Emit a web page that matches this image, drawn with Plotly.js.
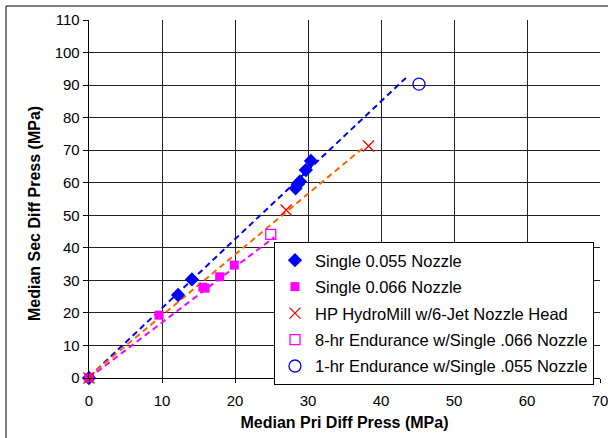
<!DOCTYPE html>
<html><head><meta charset="utf-8">
<script src="https://cdn.plot.ly/plotly-3.0.1.min.js"></script>
<style>html,body{margin:0;padding:0;background:#fff;}#chart{width:608px;height:438px;}</style>
</head><body><div id="chart"></div>
<script>
// Data
const s055_x = [0, 12.2, 14.1, 28.3, 28.6, 28.9, 29.7, 30.4];
const s055_y = [0, 25.5, 30.3, 58.3, 59.5, 60.4, 63.9, 66.7];
const s066_x = [0, 9.6, 15.6, 15.9, 17.9, 19.9];
const s066_y = [0, 19.3, 27.9, 27.6, 31.1, 34.7];
const hp_x = [0, 27.0, 38.3];
const hp_y = [0, 51.6, 71.3];
const end8_x = [24.9];
const end8_y = [44.1];
const end1_x = [45.2];
const end1_y = [90.3];
// Trendline endpoints
const trendBlue_x = [0, 43.4];
const trendBlue_y = [0.3, 92.2];
const trendOrange_x = [0, 37.7];
const trendOrange_y = [0.5, 71.0];
const trendMagenta_x = [0, 25.4];
const trendMagenta_y = [0, 43.3];
const names = ["Single 0.055 Nozzle", "Single 0.066 Nozzle", "HP HydroMill w/6-Jet Nozzle Head",
  "8-hr Endurance w/Single .066 Nozzle", "1-hr Endurance w/Single .055 Nozzle"];
const xTitle = "Median Pri Diff Press (MPa)";
const yTitle = "Median Sec Diff Press (MPa)";

const traces = [
  {x: trendBlue_x, y: trendBlue_y, mode: 'lines', line: {color: '#0000FF', dash: '6px,4px', width: 2}, showlegend: false, hoverinfo: 'skip'},
  {x: trendOrange_x, y: trendOrange_y, mode: 'lines', line: {color: '#FF6600', dash: '6px,4px', width: 2}, showlegend: false, hoverinfo: 'skip'},
  {x: trendMagenta_x, y: trendMagenta_y, mode: 'lines', line: {color: '#FF00FF', dash: '6px,4px', width: 2}, showlegend: false, hoverinfo: 'skip'},
  {x: s055_x, y: s055_y, name: names[0], legendgroup: 'a', mode: 'markers', marker: {symbol: 'diamond', size: 11, color: '#0000FF'}},
  {x: s066_x, y: s066_y, name: names[1], legendgroup: 'b', mode: 'markers', marker: {symbol: 'square', size: 9, color: '#FF00FF'}},
  {x: hp_x, y: hp_y, name: names[2], legendgroup: 'c', mode: 'markers', marker: {symbol: 'x-thin', size: 11, color: '#FF0000', line: {color: '#FF0000', width: 1.3}}},
  {x: end8_x, y: end8_y, name: names[3], legendgroup: 'd', mode: 'markers', marker: {symbol: 'square-open', size: 10, color: '#FF00FF', line: {width: 1.3}}},
  {x: end1_x, y: end1_y, name: names[4], legendgroup: 'e', mode: 'markers', marker: {symbol: 'circle-open', size: 12, color: '#0000FF', line: {width: 1.3}}}
];
traces.forEach(t => t.cliponaxis = false);

const layout = {
  width: 608, height: 438,
  margin: {l: 89, r: 8, t: 20, b: 60},
  paper_bgcolor: '#fff', plot_bgcolor: '#fff',
  font: {family: 'Liberation Sans, Arial, sans-serif', size: 15, color: '#000'},
  xaxis: {range: [0, 70], dtick: 10, showgrid: true, gridcolor: '#222', gridwidth: 1, zeroline: false,
    showline: true, linecolor: '#000', linewidth: 1.3, ticks: 'outside', ticklen: 4, tickcolor: '#000',
    ticklabelstandoff: 5, ticklabeloverflow: 'allow',
    tickfont: {size: 15}, title: {text: '<b>' + xTitle + '</b>', font: {size: 16}, standoff: 8}},
  yaxis: {range: [0, 110], dtick: 10, showgrid: true, gridcolor: '#222', gridwidth: 1, zeroline: false,
    showline: true, linecolor: '#000', linewidth: 1.3, ticks: 'outside', ticklen: 5, tickcolor: '#000',
    ticklabeloverflow: 'allow', tickfont: {size: 15}},
  annotations: [{text: '<b>' + yTitle + '</b>', textangle: -90, xref: 'paper', yref: 'paper',
    x: -0.1076, y: 0.458, xanchor: 'center', yanchor: 'middle', showarrow: false, font: {size: 16}}],
  showlegend: true,
  legend: {x: 0.362, y: 0.38, xanchor: 'left', yanchor: 'top', bgcolor: '#fff', bordercolor: '#000', borderwidth: 1,
    font: {size: 16.5}, traceorder: 'grouped', tracegroupgap: 2, itemwidth: 30},
  shapes: [{type: 'rect', xref: 'paper', yref: 'paper', x0: -0.1624, x1: 1.04, y0: -0.2, y1: 1.039,
    line: {color: '#000', width: 1}, fillcolor: 'rgba(0,0,0,0)', layer: 'below'}]
};
Plotly.newPlot('chart', traces, layout, {staticPlot: true});
</script></body></html>
